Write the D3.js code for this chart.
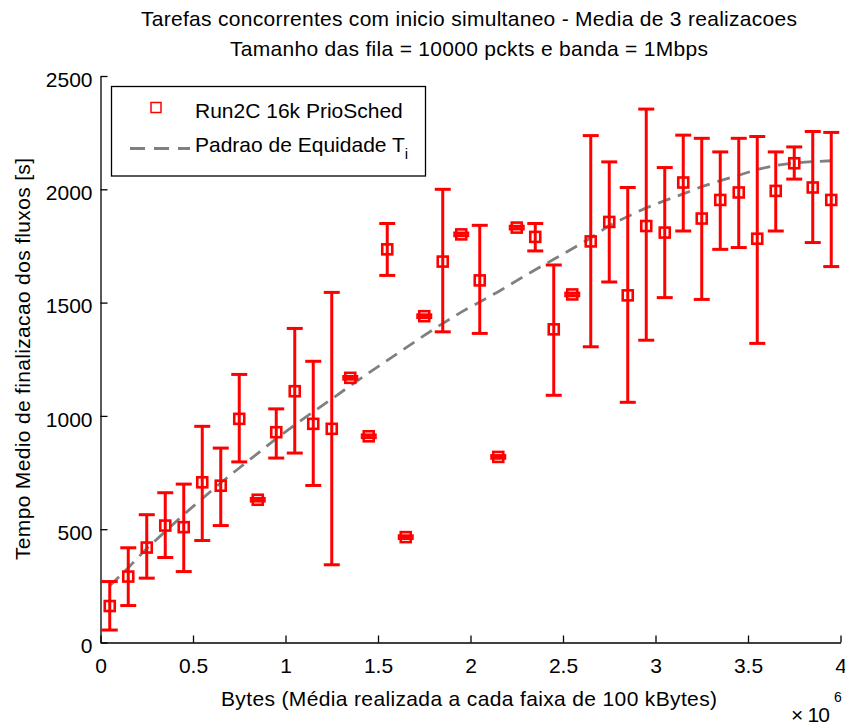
<!DOCTYPE html>
<html>
<head>
<meta charset="utf-8">
<script src="https://cdn.jsdelivr.net/npm/d3@7"></script>
<style>
  html, body { margin: 0; padding: 0; background: #fff; }
  svg { display: block; }
  text { font-family: "Liberation Sans", Arial, sans-serif; fill: #000; }
</style>
</head>
<body>
<svg id="chart" width="845" height="727"></svg>
<script>
// Bin centres (bytes), one per 100 kByte band
const bins = [0.05,0.15,0.25,0.35,0.45,0.55,0.65,0.75,0.85,0.95,
              1.05,1.15,1.25,1.35,1.45,1.55,1.65,1.75,1.85,1.95,
              2.05,2.15,2.25,2.35,2.45,2.55,2.65,2.75,2.85,2.95,
              3.05,3.15,3.25,3.35,3.45,3.55,3.65,3.75,3.85,3.95].map(v => v * 1e6);

// Mean completion time of the flows [s]
const meanTime = [161,291,419,516,509,707,692,987,630,928,
                  1109,965,943,1168,910,1735,465,1440,1681,1801,
                  1598,819,1831,1790,1382,1536,1770,1856,1532,1838,
                  1809,2030,1871,1953,1986,1782,1993,2115,2008,1953];

// Error bar extremes
const upper = [269,418,564,661,699,954,858,1183,636,1031,
               1386,1241,1545,1174,916,1849,471,1446,2000,1807,
               1841,825,1837,1849,1666,1542,2237,2121,2008,2354,
               2096,2239,2225,2165,2225,2233,2165,2187,2255,2251];
const lower = [55,163,284,375,313,450,516,797,624,814,
               836,693,343,1162,904,1620,459,1434,1371,1795,
               1364,813,1825,1728,1091,1530,1305,1591,1060,1334,
               1522,1816,1514,1735,1743,1320,1816,2045,1765,1659];

// Fairness reference curve T_i
const fairTime = [250,330,415,490,565,635,705,770,835,900,
                  960,1018,1075,1133,1190,1245,1300,1355,1408,1458,
                  1503,1548,1597,1645,1691,1738,1785,1840,1880,1918,
                  1950,1980,2012,2038,2062,2088,2105,2116,2122,2126];

const xTicks = [0,0.5e6,1e6,1.5e6,2e6,2.5e6,3e6,3.5e6,4e6];
const yTicks = [0,500,1000,1500,2000,2500];

const titleLines = ["Tarefas concorrentes com inicio simultaneo - Media de 3 realizacoes",
                    "Tamanho das fila = 10000 pckts e banda = 1Mbps"];
const xLabel = "Bytes (Média realizada a cada faixa de 100 kBytes)";
const yLabel = "Tempo Medio de finalizacao dos fluxos [s]";
const seriesName = "Run2C 16k PrioSched";
const fairName = "Padrao de Equidade T";

const svg = d3.select("#chart");
const x = d3.scaleLinear().domain([0, 4e6]).range([100.5, 840.5]);
const y = d3.scaleLinear().domain([0, 2500]).range([642.5, 76]);

const red = "#ff0000";
const grey = "#808080";
const fs = 21;

// Fairness curve
svg.append("path")
  .datum(bins.map((b, i) => [b, fairTime[i]]))
  .attr("fill", "none")
  .attr("stroke", grey)
  .attr("stroke-width", 2.8)
  .attr("stroke-dasharray", "13,8")
  .attr("d", d3.line().x(d => x(d[0])).y(d => y(d[1])));

// Error bars
const capHalf = 8;
const eb = svg.append("g").attr("stroke", red).attr("stroke-width", 3).attr("fill", "none");
bins.forEach((b, i) => {
  const cx = x(b);
  eb.append("line").attr("x1", cx).attr("x2", cx).attr("y1", y(lower[i])).attr("y2", y(upper[i]));
  eb.append("line").attr("x1", cx - capHalf).attr("x2", cx + capHalf).attr("y1", y(upper[i])).attr("y2", y(upper[i]));
  eb.append("line").attr("x1", cx - capHalf).attr("x2", cx + capHalf).attr("y1", y(lower[i])).attr("y2", y(lower[i]));
});

// Square markers
const ms = 10;
svg.append("g").selectAll("rect").data(bins).join("rect")
  .attr("x", d => x(d) - ms / 2)
  .attr("y", (d, i) => y(meanTime[i]) - ms / 2)
  .attr("width", ms).attr("height", ms)
  .attr("fill", "none").attr("stroke", red).attr("stroke-width", 2.6);

// Axes with inward ticks
const xAxis = svg.append("g").attr("transform", "translate(0,642.5)")
  .call(d3.axisBottom(x).tickValues(xTicks).tickSizeInner(-7).tickSizeOuter(0)
    .tickFormat(d => d3.format("~g")(d / 1e6)));
const yAxis = svg.append("g").attr("transform", "translate(100.5,0)")
  .call(d3.axisLeft(y).tickValues(yTicks).tickSizeInner(-7).tickSizeOuter(0)
    .tickFormat(d3.format("d")));

[xAxis, yAxis].forEach(g => {
  g.select(".domain").attr("stroke", "#000").attr("stroke-width", 1.3);
  g.selectAll(".tick line").attr("stroke", "#000").attr("stroke-width", 1.3);
  g.selectAll(".tick text").attr("font-size", fs)
    .attr("font-family", "Liberation Sans, Arial, sans-serif").attr("fill", "#000");
});
xAxis.selectAll(".tick text").attr("y", 30.5).attr("dy", 0);
yAxis.selectAll(".tick text").attr("x", -8).attr("dy", "0.7em").attr("y", -4.5);

// Titles
svg.append("text").attr("x", 469).attr("y", 26).attr("text-anchor", "middle")
  .attr("font-size", fs).attr("textLength", 656).attr("lengthAdjust", "spacing")
  .text(titleLines[0]);
svg.append("text").attr("x", 469).attr("y", 56).attr("text-anchor", "middle")
  .attr("font-size", fs).attr("textLength", 478).attr("lengthAdjust", "spacing")
  .text(titleLines[1]);

// Axis labels
svg.append("text").attr("x", 469).attr("y", 706).attr("text-anchor", "middle")
  .attr("font-size", fs).attr("textLength", 496).attr("lengthAdjust", "spacing")
  .text(xLabel);
svg.append("text").attr("transform", "translate(30,359) rotate(-90)").attr("text-anchor", "middle")
  .attr("font-size", fs).attr("textLength", 402).attr("lengthAdjust", "spacing")
  .text(yLabel);

// Exponent of the x axis
const ex = svg.append("text").attr("x", 791).attr("y", 722).attr("font-size", fs);
ex.append("tspan").attr("textLength", 39).attr("lengthAdjust", "spacing").text("× 10");
ex.append("tspan").attr("x", 834).attr("y", 702).attr("font-size", 14).text("6");

// Legend
const lg = svg.append("g");
lg.append("rect").attr("x", 111.5).attr("y", 86.5).attr("width", 314).attr("height", 89.5)
  .attr("fill", "#fff").attr("stroke", "#000").attr("stroke-width", 1.3);
lg.append("rect").attr("x", 156 - 5).attr("y", 107.5 - 5).attr("width", 10).attr("height", 10)
  .attr("fill", "none").attr("stroke", red).attr("stroke-width", 1.5);
lg.append("text").attr("x", 195).attr("y", 118).attr("font-size", fs).text(seriesName);
lg.append("line").attr("x1", 130).attr("x2", 190).attr("y1", 148.5).attr("y2", 148.5)
  .attr("stroke", grey).attr("stroke-width", 2.8).attr("stroke-dasharray", "15,9");
const ft = lg.append("text").attr("x", 195).attr("y", 152).attr("font-size", fs);
ft.append("tspan").text(fairName);
ft.append("tspan").attr("dy", 7).attr("font-size", 15).text("i");
</script>
</body>
</html>
